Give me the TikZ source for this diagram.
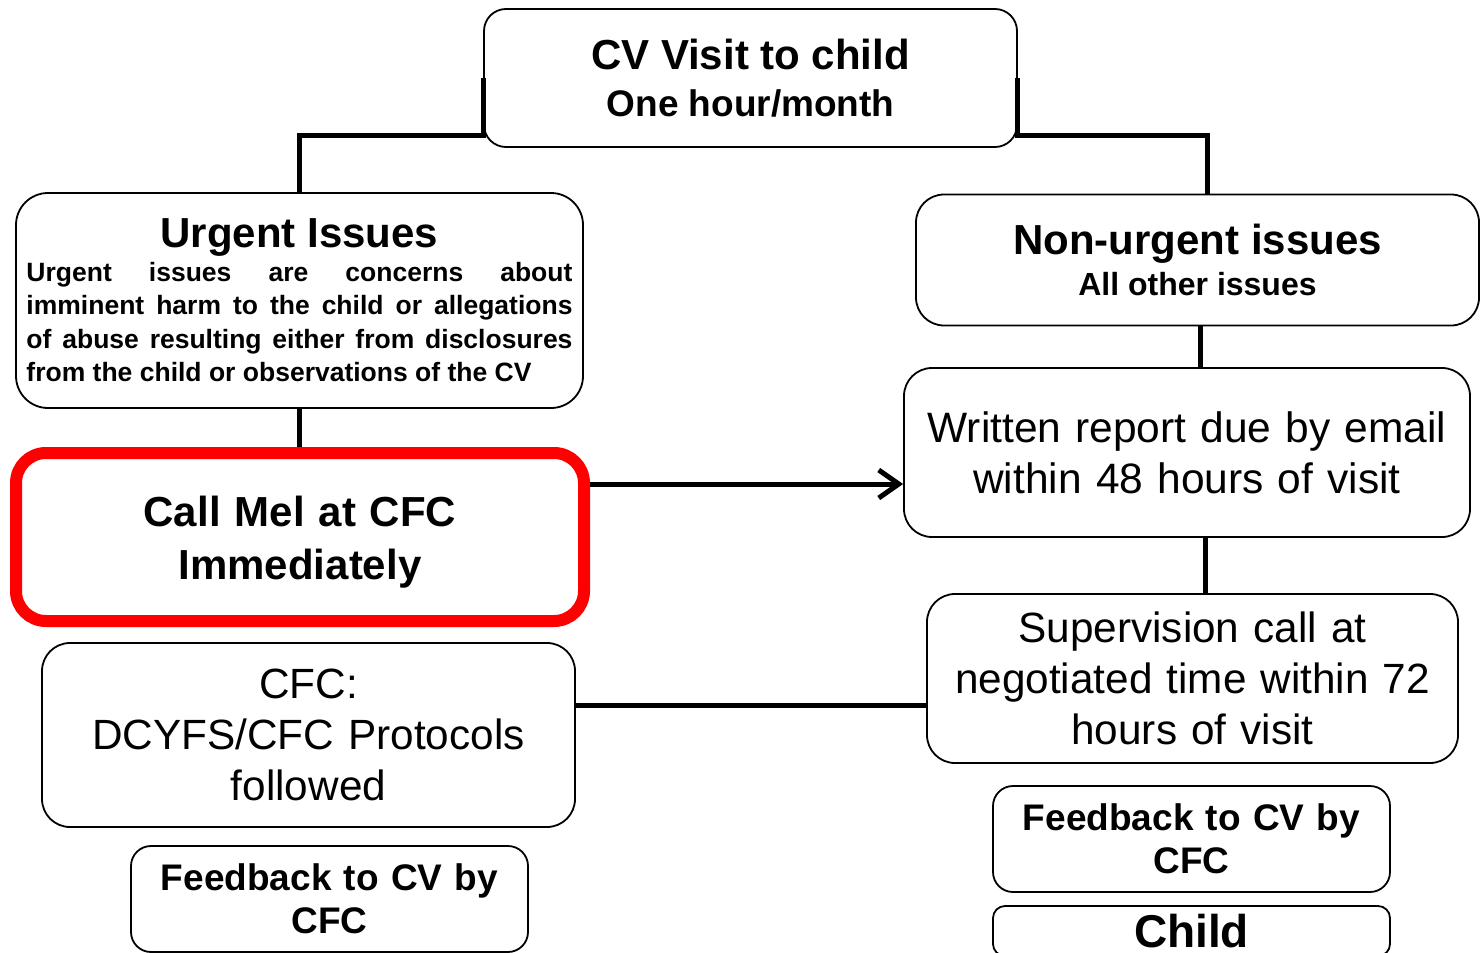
\documentclass[tikz,border=0pt]{standalone}
\usepackage{fontspec}
\setmainfont{Liberation Sans}
\usetikzlibrary{arrows.meta}
\setlength{\parindent}{0pt}
\newcommand{\fsz}[2]{\fontsize{#1}{#2}\selectfont\spaceskip=0pt\relax}

\tikzset{
  card/.style={draw, line width=1.8pt, rounded corners=28pt, align=center, inner sep=0pt},
  alert/.style={card, draw=red, line width=12pt, rounded corners=30pt},
  link/.style={line width=5pt},
}

\begin{document}
\begin{tikzpicture}[x=1pt, y=-1pt]%
    \useasboundingbox (0,0) rectangle (1481,953);
    \clip (0,0) rectangle (1481,953);
    \node [card, minimum width=533pt, minimum height=138pt, rounded corners=22pt, text width=520pt, font=\bfseries] (visit) at (750.5,78)
      {{\centering\fsz{42}{48}CV Visit to child\par}{\centering\fsz{37}{47}One hour/month\par}};
    \node [card, minimum width=567pt, minimum height=215pt, rounded corners=32pt, text width=546pt, align=justify, font=\bfseries] (urgent) at (299.5,300.5)
      {{\centering\fsz{42}{48}Urgent Issues\par}\tolerance=10000\hbadness=10000\fsz{26.5}{33.5}%
       Urgent issues are concerns about\linebreak imminent harm to the child or allegations\linebreak of abuse resulting either from disclosures\linebreak from the child or observations of the CV\par};
    \node [card, minimum width=563pt, minimum height=131pt, text width=540pt, font=\bfseries] (nonurgent) at (1197.5,260)
      {{\centering\fsz{42}{48}Non-urgent issues\par}{\centering\fsz{32}{41}All other issues\par}};
    \node [alert, minimum width=568pt, minimum height=168pt, text width=540pt, font=\bfseries\fsz{42}{53}] (call) at (300,537)
      {\\[-12pt]Call Mel at CFC\\Immediately};
    \node [card, minimum width=566pt, minimum height=169pt, text width=550pt, font=\fsz{42.5}{51}] (written) at (1187,452.5)
      {Written report due by email\\within 48 hours of visit};
    \node [card, minimum width=531pt, minimum height=169pt, text width=515pt, font=\fsz{42.3}{51}] (supervision) at (1192.5,678.5)
      {Supervision call at\\negotiated time within 72\\hours of visit};
    \node [card, minimum width=533pt, minimum height=184pt, text width=515pt, font=\fsz{42.3}{51}] (cfc) at (308.5,735)
      {CFC:\\DCYFS/CFC Protocols\\followed};
    \node [card, minimum width=397pt, minimum height=106pt, rounded corners=20pt, text width=380pt, font=\bfseries\fsz{37}{43}] (feedbackleft) at (329.5,899)
      {Feedback to CV by\\CFC};
    \node [card, minimum width=397pt, minimum height=106pt, rounded corners=20pt, text width=380pt, font=\bfseries\fsz{37}{43}] (feedbackright) at (1191.5,839)
      {Feedback to CV by\\CFC};
    \node [card, minimum width=397pt, minimum height=50pt, rounded corners=12pt, text width=380pt, font=\bfseries\fsz{46}{52}] (child) at (1191.5,931)
      {Child};
    % connectors
    \draw [link] (visit.west) -- ++(0,57) -| (urgent.north);
    \draw [link] (visit.east) -- ++(0,57) -| ([xshift=9.5pt]nonurgent.north);
    \draw [link] (urgent.south) -- (urgent.south |- call.north);
    \draw [link, -{Straight Barb[length=20pt, width=28pt]}] ([yshift=53pt]call.east) coordinate (toreport) -- (toreport -| written.west);
    \draw [link] ([xshift=2.5pt]nonurgent.south) coordinate (toreport2) -- (toreport2 |- written.north);
    \draw [link] ([xshift=18pt]written.south) coordinate (tosuper) -- (tosuper |- supervision.north);
    \draw [link] ([yshift=30pt]cfc.east) coordinate (tosuper2) -- (tosuper2 -| supervision.west);
\end{tikzpicture}
\end{document}
